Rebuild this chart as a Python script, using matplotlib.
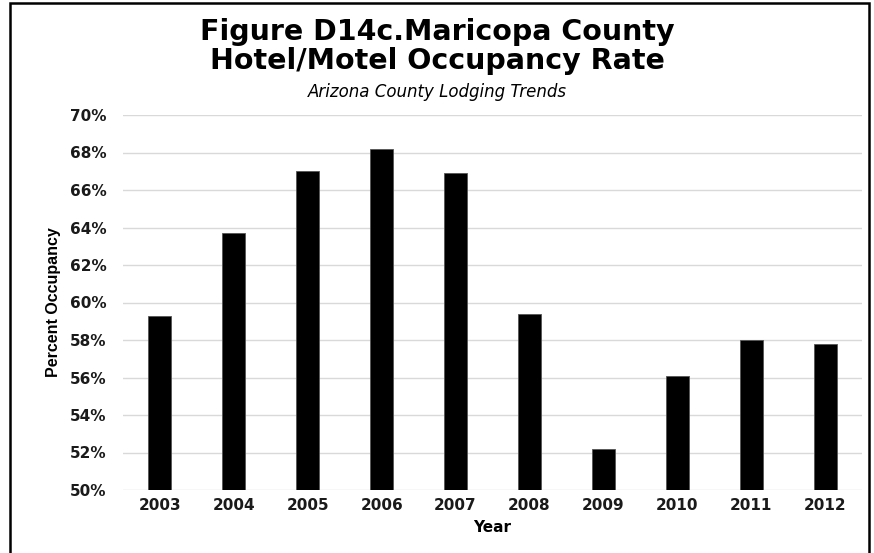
import matplotlib
matplotlib.use("Agg")
import matplotlib.pyplot as plt
from matplotlib.patches import Rectangle

years = ["2003", "2004", "2005", "2006", "2007", "2008", "2009", "2010", "2011", "2012"]
occupancy = [59.3, 63.7, 67.0, 68.2, 66.9, 59.4, 52.2, 56.1, 58.0, 57.8]
yticks = [50, 52, 54, 56, 58, 60, 62, 64, 66, 68, 70]

# the reference text is rendered wide, DejaVu Sans is the widest stand-in
plt.rcParams['font.family'] = ['DejaVu Sans']

fig = plt.figure(figsize=(8.74, 5.53), dpi=100)
ax = fig.add_axes([123 / 874, 1 - 490 / 553, (862 - 123) / 874, (490 - 115) / 553])

x = list(range(len(years)))
ax.bar(x, [v - 50 for v in occupancy], bottom=50, width=0.31,
       color="black", edgecolor="#555555", linewidth=0.6, zorder=3)

ax.set_xlim(-0.5, len(years) - 0.5)
ax.set_ylim(50, 70)
ax.set_yticks(yticks)
ax.set_yticklabels(["%d%%" % t for t in yticks], fontsize=11, fontweight="bold",
                   color="#1a1a1a")
ax.set_xticks(x)
ax.set_xticklabels(years, fontsize=11, fontweight="bold", color="#1a1a1a")
ax.tick_params(length=0)
ax.tick_params(axis="x", pad=6)
ax.tick_params(axis="y", pad=12)

ax.grid(axis="y", color="#d9d9d9", linewidth=1, zorder=0)
for s in ax.spines.values():
    s.set_visible(False)

ax.set_xlabel("Year", fontsize=11, fontweight="bold", labelpad=5)
ax.set_ylabel("Percent Occupancy", fontsize=11.5, fontweight="bold",
              family="Liberation Sans", labelpad=6)

fig.text(0.5, 1 - 40 / 553, "Figure D14c.Maricopa County", ha="center", va="baseline",
         fontsize=20.5, fontweight="bold")
fig.text(0.5, 1 - 69 / 553, "Hotel/Motel Occupancy Rate", ha="center", va="baseline",
         fontsize=20.5, fontweight="bold")
fig.text(0.5, 1 - 97 / 553, "Arizona County Lodging Trends", ha="center", va="baseline",
         fontsize=12, style="italic")

# outer frame (no bottom edge visible in the reference)
fig.patches.append(Rectangle((10 / 874, -0.01), (869 - 10) / 874, 1 - 3 / 553 + 0.01,
                             transform=fig.transFigure, fill=False,
                             edgecolor="black", linewidth=1.8))

fig.savefig("out.png", dpi=100)
